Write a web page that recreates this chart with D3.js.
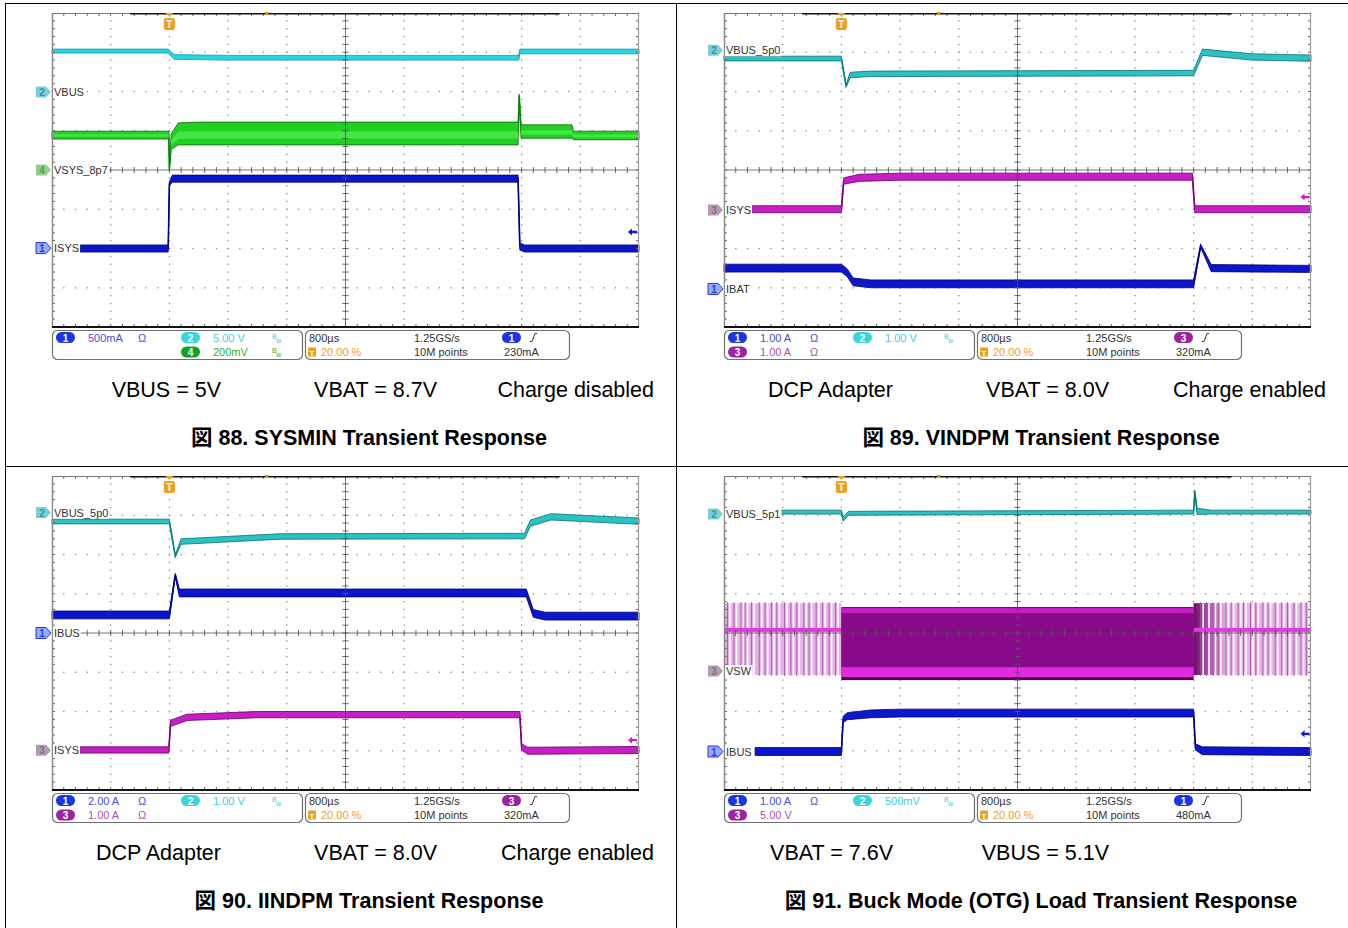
<!DOCTYPE html>
<html>
<head>
<meta charset="utf-8">
<script src="https://cdn.jsdelivr.net/npm/d3@7"></script>
<style>
  body { margin: 0; background: #fff; }
  svg { display: block; }
</style>
</head>
<body>
<div id="chart"></div>
<script>
// all traces: [time (div 0-10), level (div from screen centre, +4 top), half band width (div)]

// ---- 図 88 ----
var f88_vbus = [[0,3.03,0.05],[1.98,3.03,0.05],[2.08,2.88,0.06],[3,2.86,0.06],[7.95,2.86,0.06],[7.97,3.02,0.06],[10,3.02,0.06]];
var f88_vsys = [[0,0.89,0.1],[1.99,0.89,0.1],[2.0,0.02,0.02],[2.03,0.72,0.2],[2.15,0.92,0.28],[2.5,0.93,0.29],[7.94,0.93,0.29],[7.96,1.9,0.03],[7.99,0.98,0.17],[8.86,0.98,0.17],[8.88,0.88,0.11],[10,0.88,0.11]];
var f88_isys = [[0.48,-2.0,0.09],[1.98,-2.0,0.09],[2.0,-0.35,0.05],[2.05,-0.22,0.09],[7.94,-0.22,0.09],[7.97,-1.95,0.09],[8.05,-2.0,0.09],[10,-2.0,0.09]];
var f88_markers = [[2,1.99,"VBUS"],[4,0,"VSYS_8p7"],[1,-1.99,"ISYS"]];
var f88_chans = [[1,0,0,"500mA","Ω"],[2,0,1,"5.00 V","BW"],[4,1,1,"200mV","BW"]];
var f88_trig = [1,"230mA",9.88,-1.58];
var f88_captions = ["VBUS = 5V","VBAT = 8.7V","Charge disabled"];
var f88_title = "図 88. SYSMIN Transient Response";

// ---- 図 89 ----
var f89_vbus = [[0,2.84,0.06],[2.0,2.84,0.06],[2.08,2.14,0.03],[2.15,2.42,0.07],[2.5,2.45,0.07],[8.0,2.47,0.07],[8.15,3.0,0.08],[9.0,2.88,0.08],[10,2.85,0.08]];
var f89_isys = [[0.48,-1.0,0.09],[2.0,-1.0,0.09],[2.04,-0.28,0.08],[2.3,-0.2,0.09],[3,-0.17,0.09],[7.98,-0.17,0.09],[8.02,-1.0,0.09],[10,-1.0,0.09]];
var f89_ibat = [[0,-2.5,0.1],[2.0,-2.5,0.1],[2.1,-2.62,0.1],[2.2,-2.85,0.1],[2.5,-2.9,0.1],[8.0,-2.9,0.1],[8.12,-1.93,0.04],[8.3,-2.5,0.09],[10,-2.52,0.09]];
var f89_markers = [[2,3.05,"VBUS_5p0"],[3,-1.02,"ISYS"],[1,-3.03,"IBAT"]];
var f89_chans = [[1,0,0,"1.00 A","Ω"],[2,0,1,"1.00 V","BW"],[3,1,0,"1.00 A","Ω"]];
var f89_trig = [3,"320mA",9.89,-0.69];
var f89_captions = ["DCP Adapter","VBAT = 8.0V","Charge enabled"];
var f89_title = "図 89. VINDPM Transient Response";

// ---- 図 90 ----
var f90_vbus = [[0,2.84,0.06],[2.0,2.84,0.06],[2.1,1.96,0.03],[2.2,2.33,0.07],[3.9,2.46,0.07],[8.05,2.47,0.07],[8.15,2.8,0.08],[8.5,2.96,0.08],[9.3,2.9,0.08],[10,2.85,0.08]];
var f90_ibus = [[0,0.46,0.1],[2.0,0.46,0.1],[2.1,1.48,0.04],[2.17,1.02,0.1],[8.08,1.02,0.1],[8.2,0.5,0.1],[8.4,0.43,0.1],[10,0.43,0.1]];
var f90_isys = [[0.48,-2.98,0.08],[1.99,-2.98,0.08],[2.02,-2.3,0.08],[2.3,-2.15,0.08],[3.5,-2.08,0.08],[7.97,-2.08,0.08],[8.0,-2.9,0.08],[8.1,-3.0,0.09],[10,-2.98,0.09]];
var f90_markers = [[2,3.07,"VBUS_5p0"],[1,0,"IBUS"],[3,-2.99,"ISYS"]];
var f90_chans = [[1,0,0,"2.00 A","Ω"],[2,0,1,"1.00 V","BW"],[3,1,0,"1.00 A","Ω"]];
var f90_trig = [3,"320mA",9.88,-2.73];
var f90_captions = ["DCP Adapter","VBAT = 8.0V","Charge enabled"];
var f90_title = "図 90. IINDPM Transient Response";

// ---- 図 91 ----
var f91_vbus = [[0.95,3.08,0.05],[2.0,3.08,0.05],[2.03,2.9,0.05],[2.12,3.05,0.05],[8.0,3.08,0.05],[8.02,3.6,0.04],[8.06,3.1,0.08],[8.3,3.08,0.05],[10,3.08,0.05]];
var f91_ibus = [[0.53,-3.02,0.1],[2.0,-3.02,0.1],[2.03,-2.2,0.08],[2.1,-2.12,0.09],[2.5,-2.06,0.1],[3,-2.04,0.1],[8.0,-2.04,0.1],[8.03,-2.9,0.08],[8.15,-3.0,0.1],[10,-3.02,0.1]];
var f91_vswBurst = [[0,2.0],[8.0,10]];             // pulse-skip bursts
var f91_vswBurstLevel = [-1.07,0.08,0.76];         // low, mid, high
var f91_vswLoad = [[2.0,8.0]];                     // continuous switching
var f91_vswLoadLevel = [-1.2,-0.87,0.53,0.66];
var f91_vswPulses = [0.06,0.17,0.29,0.36,0.47,0.6,0.7,0.81,0.9,1.03,1.14,1.24,1.36,1.45,1.57,1.68,1.79,1.9,
                     8.12,8.22,8.33,8.42,8.55,8.64,8.76,8.85,8.97,9.06,9.18,9.27,9.39,9.5,9.6,9.71,9.83,9.92];
var f91_markers = [[2,3.03,"VBUS_5p1"],[3,-0.97,"VSW"],[1,-3.02,"IBUS"]];
var f91_chans = [[1,0,0,"1.00 A","Ω"],[2,0,1,"500mV","BW"],[3,1,0,"5.00 V",""]];
var f91_trig = [1,"480mA",9.89,-2.57];
var f91_captions = ["VBAT = 7.6V","VBUS = 5.1V"];
var f91_title = "図 91. Buck Mode (OTG) Load Transient Response";

var CH = {
    1: {trace: "#0c16cc", edge: "#00006e", pill: "#1a36e6", text: "#4c4ce0", mark: "#9aaaf6", num: "#2a3ad8"},
    2: {trace: "#2ad6e4", edge: "#0c98a6", pill: "#3ad6de", text: "#3cd0e0", mark: "#7ccfd6", num: "#2a9aa6"},
    3: {trace: "#c81ec8", edge: "#640064", pill: "#9c249c", text: "#b050b8", mark: "#b49ab4", num: "#8a6a8a"},
    4: {trace: "#22d022", edge: "#0a680a", pill: "#16a026", text: "#30b030", mark: "#8ed28e", num: "#5a9a5a", core: "#4cec4c"}
};
var TEAL = {trace: "#2cc2c2", edge: "#0b6e6e"};

var W = 1348, H = 928, SW = 587, SH = 314;
var font = "'Liberation Sans', Arial, 'Noto Sans CJK JP', sans-serif";

var svg = d3.select("#chart").append("svg")
    .attr("width", W)
    .attr("height", H)
    .style("background-color", "white");

var x = d3.scaleLinear().domain([0, 10]).range([0, SW]);
var y = d3.scaleLinear().domain([-4, 4]).range([SH, 0]);

// table lines
var table = svg.append("g").attr("stroke", "#000").attr("stroke-width", 1);
table.append("line").attr("x1", 5.5).attr("x2", 5.5).attr("y1", 3).attr("y2", H);
table.append("line").attr("x1", 5).attr("x2", W).attr("y1", 3.5).attr("y2", 3.5);
table.append("line").attr("x1", 5).attr("x2", W).attr("y1", 466.5).attr("y2", 466.5);
table.append("line").attr("x1", 676.5).attr("x2", 676.5).attr("y1", 3).attr("y2", H);

function drawGrid(g) {
    var steps = d3.range(1, 40).map(function(k) { return k * 0.2; });
    var dots = [];
    [1, 2, 3, 4, 6, 7, 8, 9].forEach(function(t) {
        steps.forEach(function(s) { dots.push([t, s - 4]); });
    });
    [-3, -2, -1, 1, 2, 3].forEach(function(v) {
        d3.range(1, 50).forEach(function(k) { dots.push([k * 0.2, v]); });
    });
    g.append("g").attr("class", "dots")
        .selectAll("rect")
        .data(dots)
        .enter()
        .append("rect")
        .attr("x", function(d) { return x(d[0]) - 0.6; })
        .attr("y", function(d) { return y(d[1]) - 0.6; })
        .attr("width", 1.3)
        .attr("height", 1.3)
        .attr("fill", "#8c8c8c");
}

function drawFrame(g) {
    var f = g.append("g").attr("class", "frame");
    var vt = d3.range(1, 40).map(function(k) { return k * 0.2 - 4; });
    var ht = d3.range(1, 50).map(function(k) { return k * 0.2; });
    // centre cross
    f.append("line").attr("x1", x(5)).attr("x2", x(5)).attr("y1", 0).attr("y2", SH)
        .attr("stroke", "#4a4a4a").attr("stroke-width", 1).attr("opacity", 0.75);
    f.append("line").attr("x1", 0).attr("x2", SW).attr("y1", y(0)).attr("y2", y(0))
        .attr("stroke", "#4a4a4a").attr("stroke-width", 1).attr("opacity", 0.75);
    var ticks = [];
    vt.forEach(function(v) {
        ticks.push([x(5) - 3, y(v), x(5) + 3, y(v)]);
        ticks.push([0, y(v), 3, y(v)]);
        ticks.push([SW - 3, y(v), SW, y(v)]);
    });
    ht.forEach(function(t) {
        ticks.push([x(t), y(0) - 3, x(t), y(0) + 3]);
        ticks.push([x(t), 0, x(t), 3]);
        ticks.push([x(t), SH - 3, x(t), SH]);
    });
    f.append("g").selectAll("line")
        .data(ticks)
        .enter()
        .append("line")
        .attr("x1", function(d) { return d[0]; })
        .attr("y1", function(d) { return d[1]; })
        .attr("x2", function(d) { return d[2]; })
        .attr("y2", function(d) { return d[3]; })
        .attr("stroke", "#555")
        .attr("stroke-width", 0.9);
    f.append("line").attr("x1", 0.5).attr("x2", 0.5).attr("y1", 0).attr("y2", SH).attr("stroke", "#8a8a8a").attr("stroke-width", 1.5);
    f.append("line").attr("x1", SW - 0.5).attr("x2", SW - 0.5).attr("y1", 0).attr("y2", SH).attr("stroke", "#9a9a9a").attr("stroke-width", 1.2);
    f.append("line").attr("x1", 0).attr("x2", SW).attr("y1", 0.5).attr("y2", 0.5).attr("stroke", "#777").attr("stroke-width", 1);
    f.append("line").attr("x1", x(1.33)).attr("x2", x(8.65)).attr("y1", 0.7).attr("y2", 0.7).attr("stroke", "#111").attr("stroke-width", 1.4);
    f.append("line").attr("x1", 0).attr("x2", SW).attr("y1", SH).attr("y2", SH).attr("stroke", "#111").attr("stroke-width", 2.2);
}

function drawTrace(g, data, col) {
    var area = d3.area()
        .x(function(d) { return x(d[0]); })
        .y0(function(d) { return y(d[1] - d[2]); })
        .y1(function(d) { return y(d[1] + d[2]); });
    var line = d3.line()
        .x(function(d) { return x(d[0]); })
        .y(function(d) { return y(d[1]); });
    g.append("path").datum(data)
        .attr("d", line)
        .attr("fill", "none")
        .attr("stroke", col.trace)
        .attr("stroke-width", 1.6);
    g.append("path").datum(data)
        .attr("d", area)
        .attr("fill", col.trace)
        .attr("stroke", col.edge)
        .attr("stroke-width", 0.8)
        .attr("stroke-linejoin", "round");
    if (col.core) {
        // brighter persistence core inside wide ripple bands
        var core = d3.area()
            .x(function(d) { return x(d[0]); })
            .y0(function(d) { return y(d[1] - d[2] * 0.45); })
            .y1(function(d) { return y(d[1] + d[2] * 0.2); });
        g.append("path").datum(data)
            .attr("d", core)
            .attr("fill", col.core)
            .attr("opacity", 0.8);
    }
}

function drawVsw(g) {
    var col = CH[3];
    var defs = svg.append("defs");
    var grad = defs.append("linearGradient").attr("id", "vswfade").attr("x1", "0%").attr("x2", "100%");
    grad.append("stop").attr("offset", "0%").attr("stop-color", "#6e0a6e");
    grad.append("stop").attr("offset", "100%").attr("stop-color", "#eab0ea");
    var lo = f91_vswBurstLevel[0], mid = f91_vswBurstLevel[1], hi = f91_vswBurstLevel[2];
    g.append("g").selectAll("rect")
        .data(f91_vswBurst)
        .enter()
        .append("rect")
        .attr("x", function(d) { return x(d[0]); })
        .attr("width", function(d) { return x(d[1]) - x(d[0]); })
        .attr("y", y(hi))
        .attr("height", y(lo) - y(hi))
        .attr("fill", "#e8b2e8");
    // dark tail right after the load step
    g.append("rect")
        .attr("x", x(f91_vswBurst[1][0]))
        .attr("width", x(8.55) - x(f91_vswBurst[1][0]))
        .attr("y", y(hi))
        .attr("height", y(lo) - y(hi))
        .attr("fill", "url(#vswfade)");
    var pulses = g.append("g");
    pulses.selectAll("line.w")
        .data(f91_vswPulses)
        .enter()
        .append("line")
        .attr("class", "w")
        .attr("x1", function(d) { return x(d) + 2.5; })
        .attr("x2", function(d) { return x(d) + 2.5; })
        .attr("y1", y(hi))
        .attr("y2", y(lo))
        .attr("stroke", "#fff")
        .attr("stroke-width", 1.6);
    pulses.selectAll("line.d")
        .data(f91_vswPulses)
        .enter()
        .append("line")
        .attr("class", "d")
        .attr("x1", function(d) { return x(d); })
        .attr("x2", function(d) { return x(d); })
        .attr("y1", y(hi) - 1)
        .attr("y2", y(lo) + 1)
        .attr("stroke", "#a454a4")
        .attr("stroke-width", 0.9);
    g.append("g").selectAll("rect")
        .data(f91_vswBurst)
        .enter()
        .append("rect")
        .attr("x", function(d) { return x(d[0]); })
        .attr("width", function(d) { return x(d[1]) - x(d[0]); })
        .attr("y", y(mid) - 2)
        .attr("height", 4)
        .attr("fill", "#e03ae0");
    var L = f91_vswLoadLevel;
    var load = g.append("g").selectAll("g")
        .data(f91_vswLoad)
        .enter()
        .append("g");
    load.append("rect")
        .attr("x", function(d) { return x(d[0]); })
        .attr("width", function(d) { return x(d[1]) - x(d[0]); })
        .attr("y", y(L[3]))
        .attr("height", y(L[0]) - y(L[3]))
        .attr("fill", "#54004f");
    load.append("rect")
        .attr("x", function(d) { return x(d[0]); })
        .attr("width", function(d) { return x(d[1]) - x(d[0]); })
        .attr("y", y(L[2]))
        .attr("height", y(L[1]) - y(L[2]))
        .attr("fill", "#880a88");
    load.append("rect")
        .attr("x", function(d) { return x(d[0]); })
        .attr("width", function(d) { return x(d[1]) - x(d[0]); })
        .attr("y", y(L[3]) + 1)
        .attr("height", y(L[2]) - y(L[3]))
        .attr("fill", col.trace);
    load.append("rect")
        .attr("x", function(d) { return x(d[0]); })
        .attr("width", function(d) { return x(d[1]) - x(d[0]); })
        .attr("y", y(L[1]))
        .attr("height", y(L[0]) - y(L[1]) - 3)
        .attr("fill", "#e02ae0");
}

function drawMarkers(g, markers) {
    var m = g.append("g").attr("class", "markers")
        .selectAll("g")
        .data(markers)
        .enter()
        .append("g")
        .attr("transform", function(d) { return "translate(0," + y(d[1]) + ")"; });
    m.append("text")
        .attr("x", 2)
        .attr("y", 4)
        .style("font-family", font)
        .style("font-size", "11px")
        .style("fill", "#333")
        .text(function(d) { return d[2]; })
        .each(function() {
            var b = this.getBBox();
            d3.select(this.parentNode).insert("rect", "text")
                .attr("x", b.x - 1).attr("y", b.y).attr("width", b.width + 2).attr("height", b.height)
                .attr("fill", "#fff");
        });
    m.append("path")
        .attr("d", "M-16,-5.5h10l5,5.5l-5,5.5h-10z")
        .attr("fill", function(d) { return CH[d[0]].mark; })
        .attr("stroke", function(d) { return d[0] === 1 ? CH[1].pill : "none"; })
        .attr("stroke-width", 1);
    m.append("text")
        .attr("x", -10)
        .attr("y", 4)
        .style("font-family", font)
        .style("font-size", "10px")
        .style("font-weight", "bold")
        .style("text-anchor", "middle")
        .style("fill", function(d) { return CH[d[0]].num; })
        .text(function(d) { return d[0]; });
}

function drawTrigger(g, trig) {
    var tx = x(2.0);
    g.append("path").attr("d", "M" + (tx - 4) + ",0h8l-4,4z").attr("fill", "#f0a020");
    g.append("rect").attr("x", tx - 5.5).attr("y", 5).attr("width", 11).attr("height", 12).attr("rx", 2).attr("fill", "#f0a020");
    g.append("text").attr("x", tx).attr("y", 15)
        .style("font-family", font).style("font-size", "10px").style("font-weight", "bold")
        .style("text-anchor", "middle").style("fill", "#fff").text("T");
    g.append("path").attr("d", "M" + (x(3.66) - 3) + ",-1h6l-3,3z").attr("fill", "#f0a020");
    // trigger level arrow
    var ax = x(trig[2]), ay = y(trig[3]);
    g.append("path")
        .attr("d", "M" + (ax - 4) + "," + ay + "l4,-3.5v2.3h5v2.4h-5v2.3z")
        .attr("fill", CH[trig[0]].trace);
}

function pill(g, px, py, ch) {
    g.append("rect").attr("x", px).attr("y", py - 5.5).attr("width", 19).attr("height", 11).attr("rx", 5.5)
        .attr("fill", CH[ch].pill);
    g.append("text").attr("x", px + 9.5).attr("y", py + 4)
        .style("font-family", font).style("font-size", "10px").style("font-weight", "bold")
        .style("text-anchor", "middle").style("fill", "#fff").text(ch);
}

function label(g, lx, ly, txt, color, size) {
    g.append("text").attr("x", lx).attr("y", ly)
        .style("font-family", font).style("font-size", (size || 11) + "px")
        .style("fill", color).text(txt);
}

function drawInfo(g, chans, trig) {
    var top = SH + 3.5, rows = [SH + 10.5, SH + 25];
    g.append("rect").attr("x", 0.5).attr("y", top).attr("width", 250).attr("height", 29).attr("rx", 5)
        .attr("fill", "#fff").attr("stroke", "#707070").attr("stroke-width", 1.2);
    g.append("rect").attr("x", 253.5).attr("y", top).attr("width", 264).attr("height", 29).attr("rx", 5)
        .attr("fill", "#fff").attr("stroke", "#707070").attr("stroke-width", 1.2);
    chans.forEach(function(c) {
        var cx = c[2] === 0 ? 4 : 129, cy = rows[c[1]];
        var col = CH[c[0]];
        pill(g, cx, cy, c[0]);
        label(g, cx + 32, cy + 4, c[3], col.text);
        if (c[4] === "Ω") label(g, cx + 82, cy + 4, "Ω", col.text);
        if (c[4] === "BW") {
            label(g, cx + 91, cy + 1, "B", col.text, 7);
            label(g, cx + 95, cy + 5, "w", col.text, 7);
        }
    });
    label(g, 257, rows[0] + 4, "800µs", "#333");
    g.append("rect").attr("x", 256).attr("y", rows[1] - 4.5).attr("width", 8).attr("height", 9).attr("fill", "#f0a020");
    g.append("text").attr("x", 260).attr("y", rows[1] + 3.5)
        .style("font-family", font).style("font-size", "8px").style("font-weight", "bold")
        .style("text-anchor", "middle").style("fill", "#fff").text("T");
    label(g, 269, rows[1] + 4, "20.00 %", "#f0a020");
    label(g, 362, rows[0] + 4, "1.25GS/s", "#333");
    label(g, 362, rows[1] + 4, "10M points", "#333");
    pill(g, 450, rows[0], trig[0]);
    g.append("path")
        .attr("d", "M" + 478 + "," + (rows[0] + 4) + "h2l3,-8h2")
        .attr("fill", "none").attr("stroke", "#333").attr("stroke-width", 1);
    label(g, 452, rows[1] + 4, trig[1], "#333");
}

function drawCaptions(g, captions, title) {
    var ends = [169, 385, 602];
    captions.forEach(function(c, i) {
        g.append("text")
            .attr("x", ends[i])
            .attr("y", 383.5)
            .style("font-family", font)
            .style("font-size", "21.5px")
            .style("text-anchor", "end")
            .style("fill", "#000")
            .text(c);
    });
    g.append("text")
        .attr("x", 317)
        .attr("y", 431.5)
        .style("font-family", font)
        .style("font-size", "21.5px")
        .style("font-weight", "bold")
        .style("text-anchor", "middle")
        .style("fill", "#000")
        .text(title);
}

function drawPanel(px, py, traces, markers, chans, trig, captions, title, extra) {
    var g = svg.append("g").attr("transform", "translate(" + px + "," + py + ")");
    drawGrid(g);
    if (extra) extra(g);
    traces.forEach(function(t) { drawTrace(g, t[0], t[1]); });
    drawFrame(g);
    drawMarkers(g, markers);
    drawTrigger(g, trig);
    drawInfo(g, chans, trig);
    drawCaptions(g, captions, title);
}

drawPanel(52, 13,
    [[f88_vbus, CH[2]], [f88_vsys, CH[4]], [f88_isys, CH[1]]],
    f88_markers, f88_chans, f88_trig, f88_captions, f88_title);

drawPanel(724, 13,
    [[f89_vbus, TEAL], [f89_isys, CH[3]], [f89_ibat, CH[1]]],
    f89_markers, f89_chans, f89_trig, f89_captions, f89_title);

drawPanel(52, 476,
    [[f90_vbus, TEAL], [f90_ibus, CH[1]], [f90_isys, CH[3]]],
    f90_markers, f90_chans, f90_trig, f90_captions, f90_title);

drawPanel(724, 476,
    [[f91_vbus, TEAL], [f91_ibus, CH[1]]],
    f91_markers, f91_chans, f91_trig, f91_captions, f91_title, drawVsw);
</script>
</body>
</html>
